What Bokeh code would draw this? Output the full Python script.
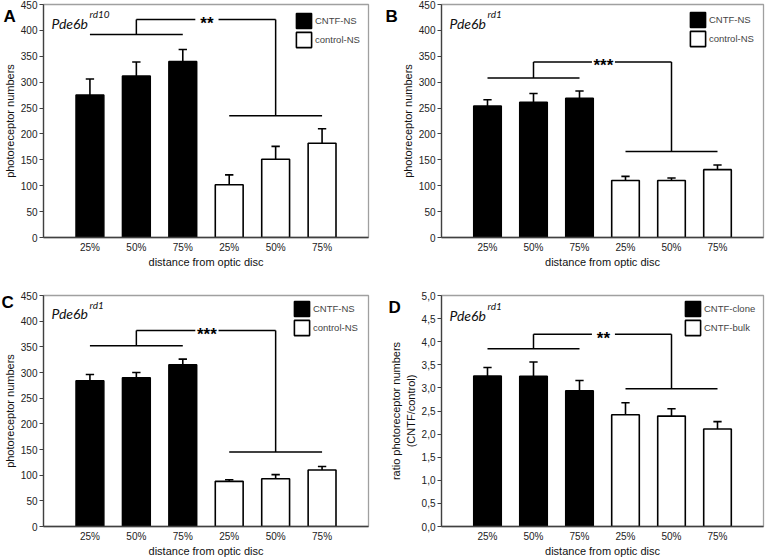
from bokeh.plotting import figure
from bokeh.models import Range1d, FixedTicker, Legend, LegendItem, Label, Title, CustomJSTickFormatter
from bokeh.layouts import column, row
from bokeh.core.properties import value
from bokeh.embed import file_html
from bokeh.resources import INLINE

# ---------------- data ----------------
positions = [1, 2, 3, 4, 5, 6]
tick_labels = ["25%", "50%", "75%", "25%", "50%", "75%"]
x_title = "distance from optic disc"

# Panel A  (Pde6b rd10)
a_black = [275, 312, 340]
a_black_err = [31, 27, 23]
a_white = [102, 151, 182]
a_white_err = [19, 25, 28]
a_sig = [392, 421, 235]      # left bracket, top, right bracket
a_stars = "**"

# Panel B  (Pde6b rd1)
b_black = [254, 261, 269]
b_black_err = [12, 17, 14]
b_white = [110, 110, 131]
b_white_err = [8, 5, 9]
b_sig = [308, 339, 166]
b_stars = "***"

# Panel C  (Pde6b rd1)
c_black = [284, 290, 315]
c_black_err = [12, 10, 11]
c_white = [88, 93, 110]
c_white_err = [3, 8, 7]
c_sig = [352, 382, 145]
c_stars = "***"

# Panel D  (ratio)
d_black = [3.26, 3.25, 2.94]
d_black_err = [0.18, 0.31, 0.22]
d_white = [2.42, 2.39, 2.11]
d_white_err = [0.26, 0.16, 0.16]
d_sig = [3.85, 4.16, 2.98]
d_stars = "**"

FONT = "Liberation Sans"
NAME_FONT = "Lato"


def panel(letter, sup, black, black_err, white, white_err, sig, stars,
          black_name, white_name, ymax, ystep, ytitle, comma,
          width, height, bl, br, bt, bb, letter_x, letter_y, leg_x, leg_top, name_dy):
    p = figure(width=width, height=height, output_backend="svg", toolbar_location=None,
               x_range=Range1d(0, 7), y_range=Range1d(0, ymax),
               min_border_left=bl, min_border_right=br, min_border_top=bt, min_border_bottom=bb)
    p.xgrid.visible = False
    p.ygrid.visible = False
    p.outline_line_color = "#a0a0a0"
    p.outline_line_width = 1.3
    p.background_fill_color = "white"
    p.border_fill_color = "white"

    xb = positions[:3]
    xw = positions[3:]
    rb = p.vbar(x=xb, top=black, width=0.6, bottom=0, fill_color="black", line_color="black", line_width=1.5)
    rw = p.vbar(x=xw, top=white, width=0.6, bottom=0, fill_color="white", line_color="black", line_width=1.6)

    # error bars (upper only)
    for xs, tops, errs in ((xb, black, black_err), (xw, white, white_err)):
        ups = [t + e for t, e in zip(tops, errs)]
        p.segment(x0=xs, y0=tops, x1=xs, y1=ups, line_color="black", line_width=1.6)
        p.segment(x0=[x - 0.09 for x in xs], y0=ups, x1=[x + 0.09 for x in xs], y1=ups,
                  line_color="black", line_width=1.6)

    # significance bracket
    yl, yt, yr = sig
    gl, gr, gc = 3.27, 3.77, 3.52
    p.segment(x0=[xb[0], xb[1], xb[1], gr, xw[1], xw[0]],
              y0=[yl, yl, yt, yt, yt, yr],
              x1=[xb[2], xb[1], gl, xw[1], xw[1], xw[2]],
              y1=[yl, yt, yt, yt, yr, yr],
              line_color="black", line_width=1.5)
    p.text(x=[gc], y=[yt], text=[stars], text_align="center", text_baseline="middle",
           text_font=value(FONT), text_font_style="bold", text_font_size="17px",
           text_color="black", y_offset=4)

    # axes
    p.xaxis.ticker = FixedTicker(ticks=positions)
    p.xaxis.major_label_overrides = {pos: lab for pos, lab in zip(positions, tick_labels)}
    p.xaxis.major_tick_out = 0
    p.xaxis.major_tick_in = 0
    p.xaxis.minor_tick_line_color = None
    p.xaxis.major_label_standoff = 4
    p.xaxis.axis_label = x_title
    p.xaxis.axis_label_standoff = 0

    p.yaxis.ticker = FixedTicker(ticks=[i * ystep for i in range(int(round(ymax / ystep)) + 1)])
    if comma:
        p.yaxis.formatter = CustomJSTickFormatter(code="return tick.toFixed(1).replace('.', ',');")
    p.yaxis.major_tick_out = 4
    p.yaxis.major_tick_in = 0
    p.yaxis.minor_tick_line_color = None
    p.yaxis.major_label_standoff = 2
    p.yaxis.axis_label = ytitle
    p.yaxis.axis_label_standoff = 2

    for ax in (p.xaxis[0], p.yaxis[0]):
        ax.axis_line_color = "#404040"
        ax.axis_line_width = 1.3
        ax.major_tick_line_color = "#404040"
        ax.major_label_text_font = FONT
        ax.major_label_text_font_size = "10px"
        ax.major_label_text_color = "#222222"
        ax.axis_label_text_font = FONT
        ax.axis_label_text_font_size = "11px"
        ax.axis_label_text_font_style = "normal"
        ax.axis_label_text_color = "#111111"

    # legend
    fh = height - bt - bb
    leg = Legend(items=[LegendItem(label=black_name, renderers=[rb]),
                        LegendItem(label=white_name, renderers=[rw])],
                 location=(leg_x, fh - leg_top - 38),
                 glyph_width=19, glyph_height=19, label_height=19, spacing=0,
                 padding=0, margin=0, label_standoff=2,
                 label_text_font=FONT, label_text_font_size="9.5px",
                 border_line_color=None, background_fill_alpha=0)
    p.add_layout(leg, "center")

    # panel letter as a title hanging down into the border area
    stand = -2 * ((letter_y + 3.6) - bt)
    p.add_layout(Title(text=letter, align="left", vertical_align="bottom",
                       offset=letter_x - bl, standoff=stand,
                       text_font=FONT, text_font_style="bold", text_font_size="17px",
                       text_color="black"), "above")

    # strain label with superscript
    p.add_layout(Label(x=0, y=ymax, x_offset=8, y_offset=-name_dy, text="Pde6b",
                       text_font=NAME_FONT, text_font_style="italic", text_font_size="14px",
                       text_baseline="alphabetic", text_color="#111111"))
    p.add_layout(Label(x=0, y=ymax, x_offset=46, y_offset=-(name_dy - 9), text=sup,
                       text_font=NAME_FONT, text_font_style="italic", text_font_size="10px",
                       text_baseline="alphabetic", text_color="#111111"))
    return p


pa = panel("A", "rd10", a_black, a_black_err, a_white, a_white_err, a_sig, a_stars,
           "CNTF-NS", "control-NS", 450, 50, "photoreceptor numbers", False,
           383, 280, 42, 15, 4, 43, 2, 22, 251, 7, 18.5)
pb = panel("B", "rd1", b_black, b_black_err, b_white, b_white_err, b_sig, b_stars,
           "CNTF-NS", "control-NS", 450, 50, "photoreceptor numbers", False,
           383, 280, 58, 3, 4, 43, 2, 22, 247, 6, 18.5)
pc = panel("C", "rd1", c_black, c_black_err, c_white, c_white_err, c_sig, c_stars,
           "CNTF-NS", "control-NS", 450, 50, "photoreceptor numbers", False,
           383, 279, 42, 15, 15, 31, 0, 28, 249, 6, 18)
pd = panel("D", "rd1", d_black, d_black_err, d_white, d_white_err, d_sig, d_stars,
           "CNTF-clone", "CNTF-bulk", 5, 0.5, "ratio photoreceptor numbers\n(CNTF/control)", True,
           383, 279, 58, 3, 15, 31, 5, 33, 242, 6, 19.5)

layout = column(row(pa, pb), row(pc, pd))
open("out.html", "w").write(file_html(layout, INLINE))
